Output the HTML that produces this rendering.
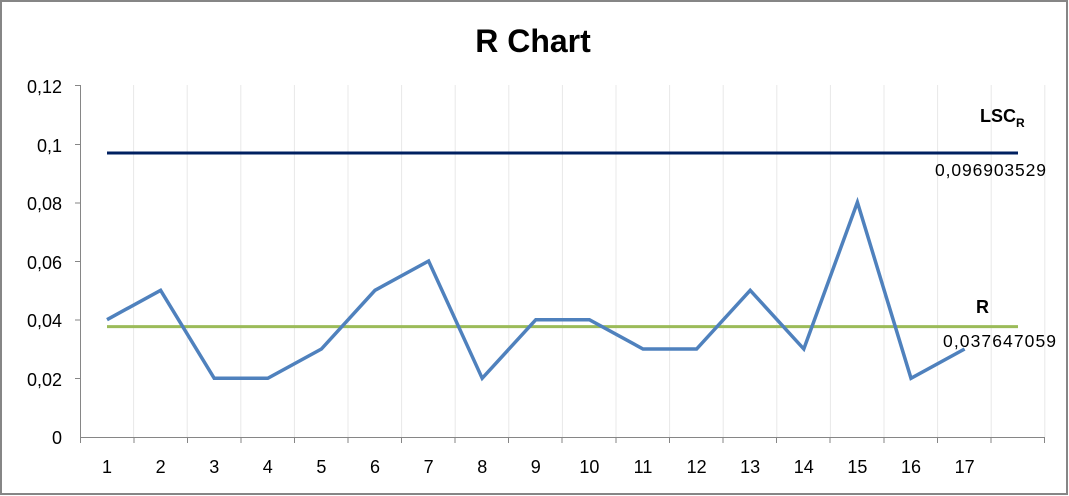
<!DOCTYPE html>
<html><head><meta charset="utf-8"><style>
html,body{margin:0;padding:0;background:#fff;}
svg{display:block;font-family:"Liberation Sans",Calibri,sans-serif;}
</style></head><body>
<svg width="1069" height="496" viewBox="0 0 1069 496">
<rect x="1" y="1" width="1066" height="493" fill="#fff" stroke="#868686" stroke-width="2"/>
<text x="533" y="52" text-anchor="middle" font-size="32" font-weight="bold" fill="#000">R Chart</text>
<g stroke="#e8e8e8" stroke-width="1">
<line x1="133.6" y1="85" x2="133.6" y2="437"/><line x1="187.2" y1="85" x2="187.2" y2="437"/><line x1="240.8" y1="85" x2="240.8" y2="437"/><line x1="294.4" y1="85" x2="294.4" y2="437"/><line x1="348" y1="85" x2="348" y2="437"/><line x1="401.6" y1="85" x2="401.6" y2="437"/><line x1="455.2" y1="85" x2="455.2" y2="437"/><line x1="508.8" y1="85" x2="508.8" y2="437"/><line x1="562.4" y1="85" x2="562.4" y2="437"/><line x1="616" y1="85" x2="616" y2="437"/><line x1="669.6" y1="85" x2="669.6" y2="437"/><line x1="723.2" y1="85" x2="723.2" y2="437"/><line x1="776.8" y1="85" x2="776.8" y2="437"/><line x1="830.4" y1="85" x2="830.4" y2="437"/><line x1="884" y1="85" x2="884" y2="437"/><line x1="937.6" y1="85" x2="937.6" y2="437"/><line x1="991.2" y1="85" x2="991.2" y2="437"/><line x1="1044.8" y1="85" x2="1044.8" y2="437"/>
</g>
<g stroke="#868686" stroke-width="1">
<line x1="80.5" y1="85" x2="80.5" y2="437"/>
<line x1="80" y1="437.5" x2="1045" y2="437.5"/>
<line x1="75" y1="85.5" x2="80" y2="85.5"/><line x1="75" y1="144.5" x2="80" y2="144.5"/><line x1="75" y1="203" x2="80" y2="203"/><line x1="75" y1="261.5" x2="80" y2="261.5"/><line x1="75" y1="320" x2="80" y2="320"/><line x1="75" y1="378.5" x2="80" y2="378.5"/>
<line x1="80.5" y1="437" x2="80.5" y2="443"/><line x1="134" y1="437" x2="134" y2="443"/><line x1="187.5" y1="437" x2="187.5" y2="443"/><line x1="241" y1="437" x2="241" y2="443"/><line x1="294.5" y1="437" x2="294.5" y2="443"/><line x1="348" y1="437" x2="348" y2="443"/><line x1="401.5" y1="437" x2="401.5" y2="443"/><line x1="455" y1="437" x2="455" y2="443"/><line x1="508.5" y1="437" x2="508.5" y2="443"/><line x1="562" y1="437" x2="562" y2="443"/><line x1="616" y1="437" x2="616" y2="443"/><line x1="669.5" y1="437" x2="669.5" y2="443"/><line x1="723" y1="437" x2="723" y2="443"/><line x1="776.5" y1="437" x2="776.5" y2="443"/><line x1="830" y1="437" x2="830" y2="443"/><line x1="884" y1="437" x2="884" y2="443"/><line x1="937.5" y1="437" x2="937.5" y2="443"/><line x1="991" y1="437" x2="991" y2="443"/><line x1="1044.5" y1="437" x2="1044.5" y2="443"/>
</g>
<g font-size="18" fill="#000" text-anchor="end">
<text x="62" y="93">0,12</text><text x="62" y="152">0,1</text><text x="62" y="210">0,08</text><text x="62" y="269">0,06</text><text x="62" y="327">0,04</text><text x="62" y="386">0,02</text><text x="62" y="444">0</text>
</g>
<g font-size="18" fill="#000" text-anchor="middle">
<text x="107" y="473">1</text><text x="160.6" y="473">2</text><text x="214.2" y="473">3</text><text x="267.8" y="473">4</text><text x="321.4" y="473">5</text><text x="375" y="473">6</text><text x="428.6" y="473">7</text><text x="482.2" y="473">8</text><text x="535.8" y="473">9</text><text x="589.4" y="473">10</text><text x="643" y="473">11</text><text x="696.6" y="473">12</text><text x="750.2" y="473">13</text><text x="803.8" y="473">14</text><text x="857.4" y="473">15</text><text x="911" y="473">16</text><text x="964.6" y="473">17</text>
</g>
<line x1="107" y1="153" x2="1018" y2="153" stroke="#002060" stroke-width="3"/>
<line x1="107" y1="326.6" x2="1018" y2="326.6" stroke="#9bbb59" stroke-width="3"/>
<polyline fill="none" stroke="#4f81bd" stroke-width="3.5" stroke-linejoin="miter" points="107,319.7 160.6,290.3 214.2,378.3 267.8,378.3 321.4,349 375,290.3 428.6,261 482.2,378.3 535.8,319.7 589.4,319.7 643,349 696.6,349 750.2,290.3 803.8,349 857.4,202.3 911,378.3 964.6,349"/>
<text x="980" y="122" font-size="18" font-weight="bold">LSC<tspan font-size="12" dy="5">R</tspan></text>
<text x="935" y="176" font-size="17.5" textLength="111">0,096903529</text>
<text x="976" y="313" font-size="18" font-weight="bold">R</text>
<text x="943" y="347" font-size="17.5" textLength="113">0,037647059</text>
</svg>
</body></html>
